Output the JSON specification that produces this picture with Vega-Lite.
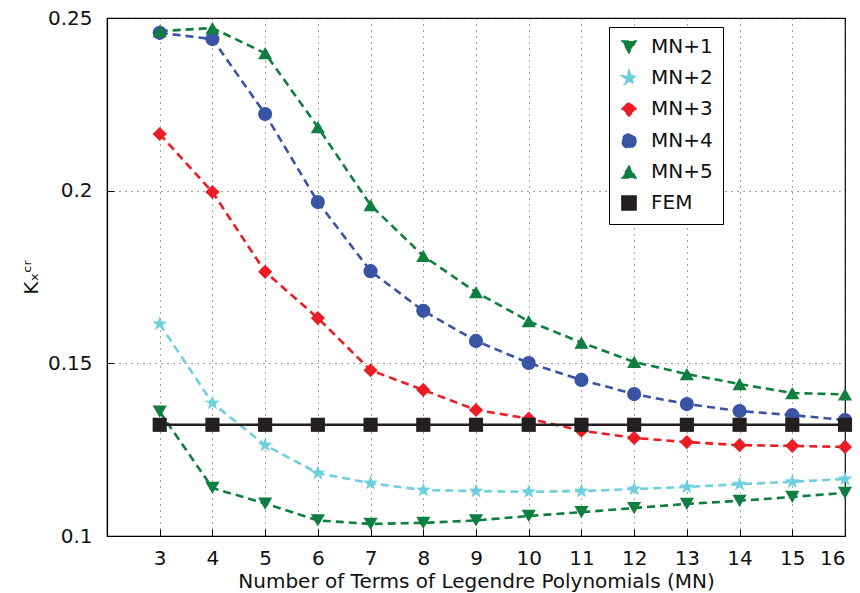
{
  "$schema": "https://vega.github.io/schema/vega-lite/v6.json",
  "width": 738,
  "height": 518,
  "autosize": {"type": "none"},
  "padding": {"left": 107, "top": 18, "right": 15, "bottom": 57},
  "background": "white",
  "config": {
    "view": {"stroke": "#000000", "strokeWidth": 1.2},
    "font": "DejaVu Sans",
    "axis": {
      "domainColor": "#000000",
      "domainWidth": 1.2,
      "tickColor": "#000000",
      "tickWidth": 1,
      "tickSize": -7,
      "labelColor": "#111111",
      "labelFont": "DejaVu Sans",
      "labelFontSize": 20,
      "titleFont": "DejaVu Sans",
      "titleFontSize": 20,
      "titleFontWeight": "normal",
      "titleColor": "#111111",
      "gridColor": "#333333",
      "gridDash": [1, 5],
      "gridWidth": 1,
      "gridOpacity": 0.9
    },
    "legend": {
      "labelFont": "DejaVu Sans",
      "labelFontSize": 20,
      "labelColor": "#111111"
    }
  },
  "data": {
    "values": [
      {"MN": 3, "series": "MN+1", "K": 0.1360}, {"MN": 4, "series": "MN+1", "K": 0.1139}, {"MN": 5, "series": "MN+1", "K": 0.1094}, {"MN": 6, "series": "MN+1", "K": 0.1045}, {"MN": 7, "series": "MN+1", "K": 0.1035}, {"MN": 8, "series": "MN+1", "K": 0.1038}, {"MN": 9, "series": "MN+1", "K": 0.1045}, {"MN": 10, "series": "MN+1", "K": 0.1058}, {"MN": 11, "series": "MN+1", "K": 0.1069}, {"MN": 12, "series": "MN+1", "K": 0.1081}, {"MN": 13, "series": "MN+1", "K": 0.1093}, {"MN": 14, "series": "MN+1", "K": 0.1102}, {"MN": 15, "series": "MN+1", "K": 0.1113}, {"MN": 16, "series": "MN+1", "K": 0.1125},
      {"MN": 3, "series": "MN+2", "K": 0.1614}, {"MN": 4, "series": "MN+2", "K": 0.1385}, {"MN": 5, "series": "MN+2", "K": 0.1263}, {"MN": 6, "series": "MN+2", "K": 0.1182}, {"MN": 7, "series": "MN+2", "K": 0.1153}, {"MN": 8, "series": "MN+2", "K": 0.1133}, {"MN": 9, "series": "MN+2", "K": 0.1130}, {"MN": 10, "series": "MN+2", "K": 0.1128}, {"MN": 11, "series": "MN+2", "K": 0.1130}, {"MN": 12, "series": "MN+2", "K": 0.1136}, {"MN": 13, "series": "MN+2", "K": 0.1142}, {"MN": 14, "series": "MN+2", "K": 0.1150}, {"MN": 15, "series": "MN+2", "K": 0.1157}, {"MN": 16, "series": "MN+2", "K": 0.1165},
      {"MN": 3, "series": "MN+3", "K": 0.2164}, {"MN": 4, "series": "MN+3", "K": 0.1996}, {"MN": 5, "series": "MN+3", "K": 0.1765}, {"MN": 6, "series": "MN+3", "K": 0.1631}, {"MN": 7, "series": "MN+3", "K": 0.1480}, {"MN": 8, "series": "MN+3", "K": 0.1423}, {"MN": 9, "series": "MN+3", "K": 0.1365}, {"MN": 10, "series": "MN+3", "K": 0.1340}, {"MN": 11, "series": "MN+3", "K": 0.1305}, {"MN": 12, "series": "MN+3", "K": 0.1284}, {"MN": 13, "series": "MN+3", "K": 0.1272}, {"MN": 14, "series": "MN+3", "K": 0.1263}, {"MN": 15, "series": "MN+3", "K": 0.1261}, {"MN": 16, "series": "MN+3", "K": 0.1258},
      {"MN": 3, "series": "MN+4", "K": 0.2457}, {"MN": 4, "series": "MN+4", "K": 0.2439}, {"MN": 5, "series": "MN+4", "K": 0.2222}, {"MN": 6, "series": "MN+4", "K": 0.1967}, {"MN": 7, "series": "MN+4", "K": 0.1767}, {"MN": 8, "series": "MN+4", "K": 0.1652}, {"MN": 9, "series": "MN+4", "K": 0.1565}, {"MN": 10, "series": "MN+4", "K": 0.1501}, {"MN": 11, "series": "MN+4", "K": 0.1452}, {"MN": 12, "series": "MN+4", "K": 0.1411}, {"MN": 13, "series": "MN+4", "K": 0.1382}, {"MN": 14, "series": "MN+4", "K": 0.1362}, {"MN": 15, "series": "MN+4", "K": 0.1350}, {"MN": 16, "series": "MN+4", "K": 0.1336},
      {"MN": 3, "series": "MN+5", "K": 0.2462}, {"MN": 4, "series": "MN+5", "K": 0.2471}, {"MN": 5, "series": "MN+5", "K": 0.2398}, {"MN": 6, "series": "MN+5", "K": 0.2184}, {"MN": 7, "series": "MN+5", "K": 0.1958}, {"MN": 8, "series": "MN+5", "K": 0.1811}, {"MN": 9, "series": "MN+5", "K": 0.1706}, {"MN": 10, "series": "MN+5", "K": 0.1622}, {"MN": 11, "series": "MN+5", "K": 0.1560}, {"MN": 12, "series": "MN+5", "K": 0.1504}, {"MN": 13, "series": "MN+5", "K": 0.1469}, {"MN": 14, "series": "MN+5", "K": 0.1440}, {"MN": 15, "series": "MN+5", "K": 0.1414}, {"MN": 16, "series": "MN+5", "K": 0.1410},
      {"MN": 3, "series": "FEM", "K": 0.1322}, {"MN": 4, "series": "FEM", "K": 0.1322}, {"MN": 5, "series": "FEM", "K": 0.1322}, {"MN": 6, "series": "FEM", "K": 0.1322}, {"MN": 7, "series": "FEM", "K": 0.1322}, {"MN": 8, "series": "FEM", "K": 0.1322}, {"MN": 9, "series": "FEM", "K": 0.1322}, {"MN": 10, "series": "FEM", "K": 0.1322}, {"MN": 11, "series": "FEM", "K": 0.1322}, {"MN": 12, "series": "FEM", "K": 0.1322}, {"MN": 13, "series": "FEM", "K": 0.1322}, {"MN": 14, "series": "FEM", "K": 0.1322}, {"MN": 15, "series": "FEM", "K": 0.1322}, {"MN": 16, "series": "FEM", "K": 0.1322}
    ]
  },
  "encoding": {
    "x": {
      "field": "MN", "type": "quantitative",
      "scale": {"domain": [2, 16], "nice": false, "zero": false},
      "axis": {
        "orient": "bottom",
        "values": [3, 4, 5, 6, 7, 8, 9, 10, 11, 12, 13, 14, 15, 16],
        "format": "d",
        "grid": true,
        "labelPadding": 19,
        "title": "Number of Terms of Legendre Polynomials (MN)",
        "titlePadding": 3
      }
    },
    "y": {
      "field": "K", "type": "quantitative",
      "scale": {"domain": [0.1, 0.25], "nice": false, "zero": false},
      "axis": {
        "orient": "left",
        "values": [0.1, 0.15, 0.2, 0.25],
        "format": "~g",
        "grid": true,
        "labelPadding": 22,
        "title": "Kₓᶜʳ",
        "titlePadding": 6
      }
    },
    "color": {
      "field": "series", "type": "nominal",
      "scale": {
        "domain": ["MN+1", "MN+2", "MN+3", "MN+4", "MN+5", "FEM"],
        "range": ["#0e7f3e", "#6ecfdf", "#ec1c24", "#3a54a4", "#0e7f3e", "#231f20"]
      },
      "legend": {
        "title": null,
        "orient": "none",
        "legendX": 502,
        "legendY": 9,
        "padding": 10,
        "strokeColor": "#000000",
        "fillColor": "#ffffff",
        "symbolSize": 200,
        "rowPadding": 10,
        "labelOffset": 12,
        "symbolOpacity": 1
      }
    },
    "shape": {
      "field": "series", "type": "nominal",
      "scale": {
        "domain": ["MN+1", "MN+2", "MN+3", "MN+4", "MN+5", "FEM"],
        "range": ["triangle-down", "M0,-1.1L0.26,-0.36L1.05,-0.34L0.42,0.14L0.65,0.89L0,0.44L-0.65,0.89L-0.42,0.14L-1.05,-0.34L-0.26,-0.36Z", "diamond", "circle", "triangle-up", "square"]
      },
      "legend": {
        "title": null,
        "orient": "none",
        "legendX": 502,
        "legendY": 9,
        "padding": 10,
        "strokeColor": "#000000",
        "fillColor": "#ffffff",
        "symbolSize": 200,
        "rowPadding": 10,
        "labelOffset": 12,
        "symbolOpacity": 1
      }
    }
  },
  "layer": [
    {
      "mark": {"type": "line", "strokeWidth": 2.6},
      "encoding": {
        "shape": {"value": "circle"},
        "strokeDash": {
          "field": "series", "type": "nominal",
          "scale": {
            "domain": ["MN+1", "MN+2", "MN+3", "MN+4", "MN+5", "FEM"],
            "range": [[8, 5], [8, 5], [8, 5], [8, 5], [8, 5], [1, 0]]
          },
          "legend": null
        }
      }
    },
    {
      "mark": {"type": "point", "filled": true, "opacity": 1, "size": 200}
    }
  ]
}
